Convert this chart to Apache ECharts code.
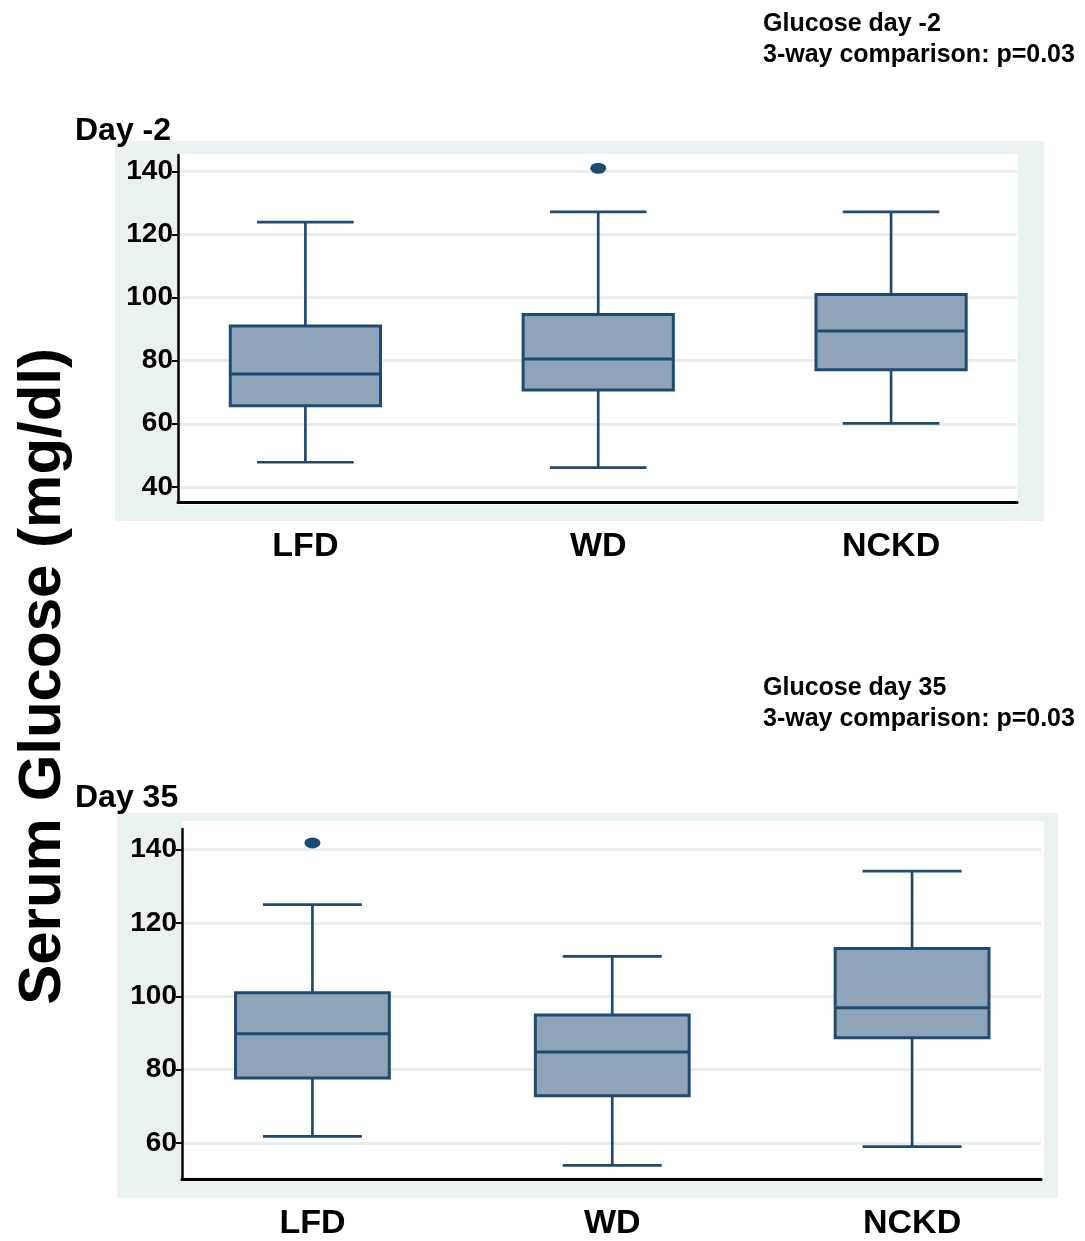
<!DOCTYPE html>
<html>
<head>
<meta charset="utf-8">
<title>Serum Glucose</title>
<script src="https://cdn.jsdelivr.net/npm/echarts@6/dist/echarts.min.js"></script>
<style>
  html, body { margin: 0; padding: 0; background: #ffffff; }
  #chart { width: 1085px; height: 1241px; }
</style>
</head>
<body>
<div id="chart"></div>
<script>
// Diet groups shown on both panels
const groups = ['LFD', 'WD', 'NCKD'];

// Five-number summaries per group: [lower whisker, Q1, median, Q3, upper whisker]
const day2Stats = [
  [47.8, 65.7, 75.8, 91.0, 123.9],
  [46.1, 70.7, 80.5, 94.6, 127.2],
  [60.1, 77.1, 89.4, 101.0, 127.2]
];
const day35Stats = [
  [61.8, 77.7, 89.8, 101.0, 125.0],
  [53.9, 72.9, 84.8, 94.9, 110.9],
  [59.0, 88.7, 96.9, 113.0, 134.1]
];

// Outside values: [group position, glucose]
const day2Outliers = [[2, 141.0]];
const day35Outliers = [[1, 141.8]];

// Y tick labels
const day2Ticks = [40, 60, 80, 100, 120, 140];
const day35Ticks = [60, 80, 100, 120, 140];

const FONT = "'Liberation Sans', Arial, Helvetica, sans-serif";
const NAVY = '#1f4b72';
const FILL = '#8fa4b9';
const PANEL_BG = '#e9f1f3';
const GRID_LINE = '#e6eef1';
const BOX_WIDTH = 0.513;   // in group-position units
const CAP_WIDTH = 0.33;

function renderBox(params, api) {
  const x = api.value(0);
  const lo = api.coord([x, api.value(1)]);
  const q1 = api.coord([x, api.value(2)]);
  const md = api.coord([x, api.value(3)]);
  const q3 = api.coord([x, api.value(4)]);
  const hi = api.coord([x, api.value(5)]);
  const cx = lo[0];
  const bw = api.size([BOX_WIDTH, 0])[0];
  const cw = api.size([CAP_WIDTH, 0])[0];
  const thin = { stroke: NAVY, lineWidth: 2.7 };
  return {
    type: 'group',
    children: [
      { type: 'line', shape: { x1: cx, y1: hi[1], x2: cx, y2: q3[1] }, style: thin },
      { type: 'line', shape: { x1: cx, y1: q1[1], x2: cx, y2: lo[1] }, style: thin },
      { type: 'line', shape: { x1: cx - cw / 2, y1: hi[1], x2: cx + cw / 2, y2: hi[1] }, style: thin },
      { type: 'line', shape: { x1: cx - cw / 2, y1: lo[1], x2: cx + cw / 2, y2: lo[1] }, style: thin },
      { type: 'rect', shape: { x: cx - bw / 2, y: q3[1], width: bw, height: q1[1] - q3[1] },
        style: { fill: FILL, stroke: NAVY, lineWidth: 3 } },
      { type: 'line', shape: { x1: cx - bw / 2, y1: md[1], x2: cx + bw / 2, y2: md[1] }, style: { stroke: NAVY, lineWidth: 3 } }
    ]
  };
}

function xAxisFor(gridIndex) {
  return {
    type: 'value', gridIndex: gridIndex, min: 0.565, max: 3.43,
    axisLine: { show: true, onZero: false, lineStyle: { color: '#000', width: 3 } },
    axisTick: { show: false },
    splitLine: { show: false },
    axisLabel: {
      customValues: [1, 2, 3],
      formatter: function (v) { return groups[Math.round(v) - 1] || ''; },
      fontFamily: FONT, fontWeight: 'bold', fontSize: 34, color: '#000', margin: 28
    }
  };
}

function yAxisFor(gridIndex, min, max, ticks) {
  return {
    type: 'value', gridIndex: gridIndex, min: min, max: max,
    axisLine: { show: true, onZero: false, lineStyle: { color: '#000', width: 2.5 } },
    axisTick: { show: true, customValues: ticks, length: 6, lineStyle: { color: '#000', width: 2 } },
    splitLine: { show: true, lineStyle: { color: GRID_LINE, width: 3 } },
    axisLabel: {
      customValues: ticks,
      fontFamily: FONT, fontWeight: 'bold', fontSize: 28, color: '#000', margin: 5
    }
  };
}

const chart = echarts.init(document.getElementById('chart'), null, { renderer: 'canvas' });

chart.setOption({
  backgroundColor: '#ffffff',
  animation: false,
  graphic: [
    { type: 'rect', z: -10, shape: { x: 115, y: 141, width: 929, height: 380 }, style: { fill: PANEL_BG } },
    { type: 'rect', z: -9, shape: { x: 178, y: 154, width: 840, height: 351 }, style: { fill: '#ffffff' } },
    { type: 'rect', z: -10, shape: { x: 117, y: 813, width: 941, height: 385 }, style: { fill: PANEL_BG } },
    { type: 'rect', z: -9, shape: { x: 182, y: 821, width: 862, height: 356 }, style: { fill: '#ffffff' } },
    {
      type: 'text', left: 13, top: 348, rotation: Math.PI / 2,
      style: { text: 'Serum Glucose (mg/dl)', font: "bold 60px " + FONT, fill: '#000' }
    }
  ],
  title: [
    { text: 'Day -2', left: 75, top: 115, padding: 0,
      textStyle: { fontFamily: FONT, fontWeight: 'bold', fontSize: 32, color: '#000' } },
    { text: 'Day 35', left: 75, top: 782, padding: 0,
      textStyle: { fontFamily: FONT, fontWeight: 'bold', fontSize: 32, color: '#000' } },
    { text: 'Glucose day -2\n3-way comparison: p=0.03', left: 763, top: 9, padding: 0,
      textStyle: { fontFamily: FONT, fontWeight: 'bold', fontSize: 25, lineHeight: 31, color: '#000' } },
    { text: 'Glucose day 35\n3-way comparison: p=0.03', left: 763, top: 673, padding: 0,
      textStyle: { fontFamily: FONT, fontWeight: 'bold', fontSize: 25, lineHeight: 31, color: '#000' } }
  ],
  grid: [
    { left: 178, top: 155, width: 839, height: 347 },
    { left: 182, top: 829, width: 859, height: 350 }
  ],
  xAxis: [xAxisFor(0), xAxisFor(1)],
  yAxis: [
    yAxisFor(0, 35.2, 145.2, day2Ticks),
    yAxisFor(1, 50.2, 145.6, day35Ticks)
  ],
  series: [
    {
      type: 'custom', xAxisIndex: 0, yAxisIndex: 0, renderItem: renderBox,
      encode: { x: 0, y: [1, 2, 3, 4, 5] },
      data: groups.map(function (g, i) { return [i + 1].concat(day2Stats[i]); })
    },
    {
      type: 'scatter', xAxisIndex: 0, yAxisIndex: 0, symbol: 'circle', symbolSize: [16, 11],
      itemStyle: { color: NAVY, opacity: 1 }, data: day2Outliers
    },
    {
      type: 'custom', xAxisIndex: 1, yAxisIndex: 1, renderItem: renderBox,
      encode: { x: 0, y: [1, 2, 3, 4, 5] },
      data: groups.map(function (g, i) { return [i + 1].concat(day35Stats[i]); })
    },
    {
      type: 'scatter', xAxisIndex: 1, yAxisIndex: 1, symbol: 'circle', symbolSize: [16, 11],
      itemStyle: { color: NAVY, opacity: 1 }, data: day35Outliers
    }
  ]
});
</script>
</body>
</html>
